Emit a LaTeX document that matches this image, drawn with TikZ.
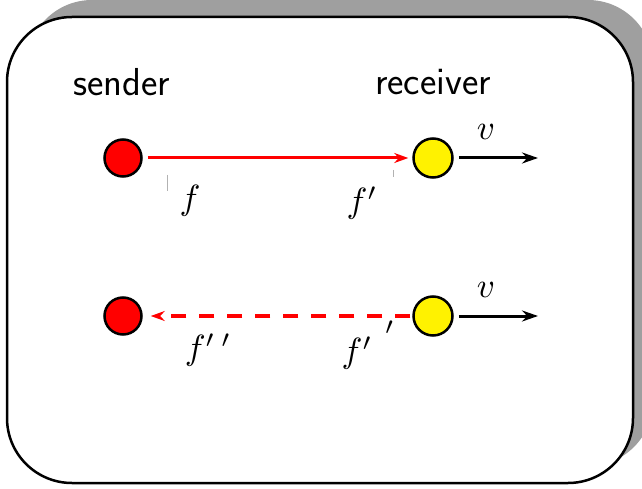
\documentclass[tikz,border=0pt]{standalone}
\usetikzlibrary{arrows.meta}
\newcommand{\mymath}[1]{\scalebox{3.5}{$#1$}}
\begin{document}
\begin{tikzpicture}[x=1pt,y=-1pt,
 every node/.style={inner sep=0pt},
 lbl/.style={font=\fontsize{39}{46}\selectfont\sffamily},
 redball/.style={circle,draw=black,line width=2.5pt,fill=red,minimum size=37pt},
 yelball/.style={circle,draw=black,line width=2.5pt,fill=yellow,minimum size=39pt},
 sig/.style={red,line width=3pt,-{Stealth[length=14pt,width=10pt]}},
 vel/.style={black,line width=3pt,-{Stealth[length=16pt,width=11pt]}},
 tickmark/.style={gray!60,line width=1pt}]
\useasboundingbox (0,0) rectangle (642,489);
\clip (0,0) rectangle (642,489);
\fill[gray!75, rounded corners=65pt] (27,0) rectangle (653,466);
\draw[line width=2.5pt, fill=white, rounded corners=65pt] (7,17) rectangle (633,483);
\node[lbl] (snd) at (122,82) {sender};
\node[lbl] (rcv) at (433,82) {receiver};
\node[redball] (s1) at (123,158) {};
\node[yelball] (r1) at (433,158) {};
\node[redball] (s2) at (123,316) {};
\node[yelball] (r2) at (433,316) {};
\coordinate (v1) at (538,158);
\coordinate (v2) at (538,316);
\draw[sig, shorten <=5pt, shorten >=4pt] (s1) -- (r1);
\draw[sig, line width=3.6pt, dash pattern=on 15pt off 13pt, shorten <=2pt, shorten >=8pt] (r2) -- (s2);
\draw[vel, shorten <=5pt] (r1) -- (v1);
\draw[vel, shorten <=5pt] (r2) -- (v2);
\node (va) at (486,132) {\mymath{v}};
\node (vb) at (486,290) {\mymath{v}};
\node (fa) at (190,201) {\mymath{f}};
\node (fb) at (362,203) {\mymath{f'}};
\node (fc) at (208,350) {\mymath{f'\,'}};
\node (fd) at (357,353) {\mymath{f'}};
\node (fe) at (390,334) {\mymath{'}};
\draw[tickmark] (167,175) -- (167,191);
\draw[tickmark] (393,170) -- (393,177);
\end{tikzpicture}
\end{document}
